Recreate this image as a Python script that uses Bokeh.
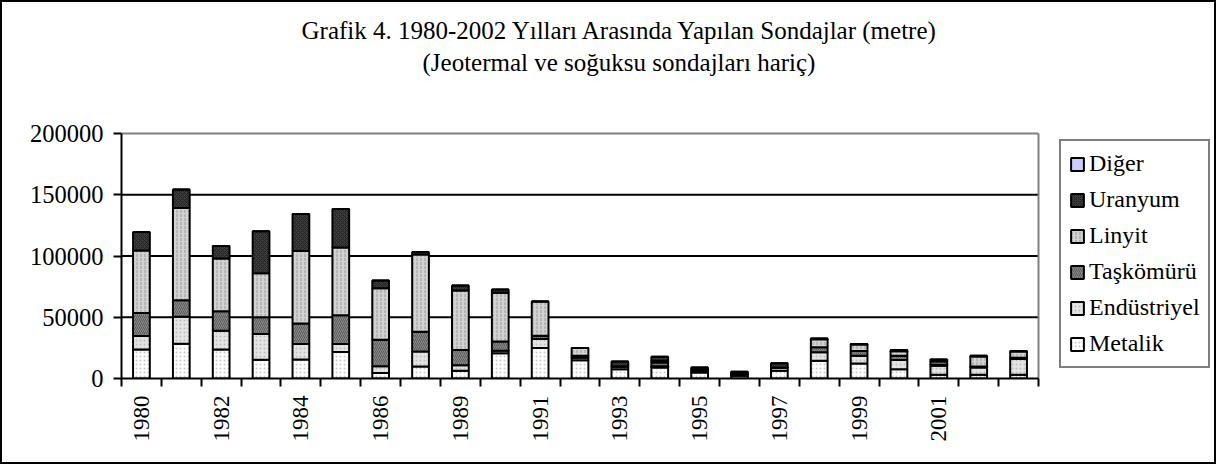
import math
from bokeh.plotting import figure
from bokeh.models import (Range1d, FixedTicker, Legend, LegendItem, Title)
from bokeh.embed import file_html
from bokeh.resources import INLINE

YEARS = ["1980", "1981", "1982", "1983", "1984", "1985", "1986", "1987-88",
         "1989", "1990", "1991", "1992", "1993", "1994", "1995", "1996",
         "1997", "1998", "1999", "2000", "2001", "2002", "2003"]
TICK_LABEL_IDX = [0, 2, 4, 6, 8, 10, 12, 14, 16, 18, 20]
Y_TICKS = [0, 50000, 100000, 150000, 200000]
GRID_TICKS = [50000, 100000, 150000]

SERIES = ["Metalik", "Endüstriyel", "Taşkömürü", "Linyit", "Uranyum", "Diğer"]
metalik = [23700, 28400, 23700, 15300, 15600, 21600, 4400, 9800, 6300, 20700, 24800,
           15000, 7600, 9000, 4900, 2200, 6300, 14500, 12300, 7600, 3000, 3000, 3000]
endustriyel = [11000, 22100, 15300, 21000, 12500, 6500, 5700, 12300, 4600, 1900, 7400,
               2000, 2000, 1000, 1500, 1000, 2500, 7000, 6200, 7600, 7400, 6000, 13000]
taskomuru = [18800, 13400, 15900, 13600, 16900, 23500, 21600, 16100, 12300, 7700, 2700,
             1500, 500, 3000, 800, 1500, 200, 4000, 4000, 3300, 1000, 800, 1000]
linyit = [51000, 75300, 43100, 36100, 59000, 55400, 42000, 63000, 48600, 39600, 27900,
          6500, 0, 1500, 0, 0, 0, 6500, 5200, 3800, 2500, 8200, 5000]
uranyum = [15000, 15000, 10100, 34300, 30300, 31400, 6300, 2000, 4100, 2700, 0,
           0, 3700, 3300, 1800, 800, 3500, 700, 500, 900, 1600, 500, 400]
diger = [0] * 23

TITLE1 = "Grafik 4. 1980-2002 Yılları Arasında Yapılan Sondajlar (metre)"
TITLE2 = "(Jeotermal ve soğuksu sondajları hariç)"

FILLS = ["#ffffff", "#e4e4e4", "#8a8a8a", "#d2d2d2", "#3c3c3c", "#ccccff"]
HATCH = [".", ".", "/", ":", "x", " "]
HATCH_COL = ["#c8c8c8", "#bdbdbd", "#5a5a5a", "#9a9a9a", "#222222", "#ccccff"]

FONT = "Liberation Serif"

# layout (pixels)
W, H = 1216, 464
LEFT, RIGHT, TOP, BOTTOM = 119, 2, 129, 88
PLOT_W, PLOT_H = 917, 245          # width/height of the category area itself
frame_w = W - LEFT - RIGHT
frame_h = H - TOP - BOTTOM
n = len(YEARS)
x_lo, x_hi = -0.5, n - 0.5
x_end = x_lo + frame_w * n / PLOT_W
y_max = Y_TICKS[-1]
y_end = y_max * frame_h / PLOT_H

data = {"x": list(range(n)), "Metalik": metalik, "Endüstriyel": endustriyel,
        "Taşkömürü": taskomuru, "Linyit": linyit, "Uranyum": uranyum, "Diğer": diger}

p = figure(width=W, height=H, output_backend="svg", toolbar_location=None,
           x_range=Range1d(x_lo, x_end), y_range=Range1d(0, y_end),
           min_border_left=LEFT, min_border_right=RIGHT, min_border_top=TOP,
           min_border_bottom=BOTTOM)
p.styles = {"border": "2px solid black"}
p.outline_line_color = None
p.xgrid.visible = False
p.ygrid.visible = False

# grid lines and plot-area border
p.segment(x0=[x_lo] * len(GRID_TICKS), x1=[x_hi] * len(GRID_TICKS),
          y0=GRID_TICKS, y1=GRID_TICKS, line_color="black", line_width=2)
p.segment(x0=[x_lo, x_hi], x1=[x_hi, x_hi], y0=[y_max, 0], y1=[y_max, y_max],
          line_color="#808080", line_width=2)

rs = p.vbar_stack(SERIES, x="x", width=0.42, source=data, fill_color=FILLS,
                  line_color="black", line_width=2, hatch_pattern=HATCH,
                  hatch_color=HATCH_COL, hatch_scale=4, hatch_weight=1)

p.yaxis.ticker = FixedTicker(ticks=Y_TICKS)
p.yaxis.bounds = (0, y_max)
p.yaxis.major_label_overrides = {v: str(v) for v in Y_TICKS}
p.yaxis.axis_line_width = 2
p.yaxis.major_tick_line_width = 2
p.yaxis.major_tick_out = 8
p.yaxis.major_tick_in = 0
p.yaxis.minor_tick_line_color = None
p.yaxis.major_label_standoff = 10

p.xaxis.ticker = FixedTicker(ticks=TICK_LABEL_IDX,
                             minor_ticks=[i - 0.5 for i in range(n + 1)])
p.xaxis.bounds = (x_lo, x_hi)
p.xaxis.major_label_overrides = {i: YEARS[i] for i in TICK_LABEL_IDX}
p.xaxis.major_label_orientation = math.pi / 2
p.xaxis.axis_line_width = 2
p.xaxis.major_tick_out = 0
p.xaxis.major_tick_in = 0
p.xaxis.minor_tick_out = 8
p.xaxis.minor_tick_in = 0
p.xaxis.minor_tick_line_width = 2
p.xaxis.minor_tick_line_color = "black"
p.xaxis.major_label_standoff = 9

for ax in (p.xaxis, p.yaxis):
    ax.axis_line_color = "black"
    ax.major_tick_line_color = "black"
    ax.major_label_text_font = FONT
    ax.major_label_text_color = "black"
p.yaxis.major_label_text_font_size = "24.5px"
p.xaxis.major_label_text_font_size = "23px"

items = [LegendItem(label=name, renderers=[r]) for name, r in zip(SERIES, rs)][::-1]
legend = Legend(items=items, location=(938, 10), label_text_font=FONT,
                label_text_font_size="24px", label_text_color="black",
                glyph_width=16, glyph_height=16,
                label_height=29, label_standoff=4, spacing=7, padding=8,
                border_line_color="black", border_line_width=2,
                background_fill_alpha=1.0, margin=0)
p.add_layout(legend, "center")

spacer = Title(text=" ", align="left", text_font=FONT, text_font_size="25px",
               text_font_style="normal", standoff=27)
t2 = Title(text=TITLE2, align="left", text_font=FONT, text_font_size="25px",
           text_font_style="normal", text_color="black", standoff=0, offset=301)
t1 = Title(text=TITLE1, align="left", text_font=FONT, text_font_size="25px",
           text_font_style="normal", text_color="black", standoff=5, offset=180)
p.add_layout(spacer, "above")
p.add_layout(t2, "above")
p.add_layout(t1, "above")

open("out.html", "w").write(file_html(p, INLINE))
